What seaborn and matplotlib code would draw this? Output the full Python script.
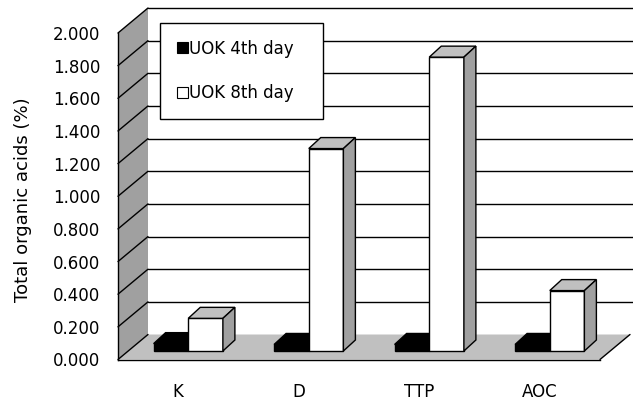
import matplotlib
matplotlib.use("Agg")
import matplotlib.pyplot as plt
import seaborn as sns
import pandas as pd
from matplotlib.patches import Polygon, Patch
from matplotlib.lines import Line2D

# ---- data -------------------------------------------------------------
categories = ["K", "D", "TTP", "AOC"]
series = ["UOK 4th day", "UOK 8th day"]
day4 = [0.045, 0.040, 0.040, 0.040]
day8 = [0.20, 1.24, 1.80, 0.37]
yticks = [0.0, 0.2, 0.4, 0.6, 0.8, 1.0, 1.2, 1.4, 1.6, 1.8, 2.0]
ytick_labels = [f"{v:.3f}" for v in yticks]

df = pd.DataFrame({
    "site": categories * 2,
    "period": [series[0]] * len(categories) + [series[1]] * len(categories),
    "acid": day4 + day8,
})

sns.set_style("white")
plt.rcParams["font.family"] = ["DejaVu Sans"]
plt.rcParams["text.color"] = "black"
plt.rcParams["axes.labelcolor"] = "black"
plt.rcParams["xtick.color"] = "black"
plt.rcParams["ytick.color"] = "black"

# ---- figure / front plane -------------------------------------------
W, H = 633, 403
fig = plt.figure(figsize=(W / 100, H / 100), dpi=100)
L, R, B, T = 118, 600, 359.5, 33           # front plane, pixels from top-left
ax = fig.add_axes([L / W, (H - B) / H, (R - L) / W, (B - T) / H])

sx = 4.0 / (R - L)     # data units per pixel (x)
sy = 2.0 / (B - T)     # data units per pixel (y)


def px(dx, dy):
    return dx * sx, dy * sy


WALL = px(30, 25)       # depth of the whole plot box
BFRONT = px(10, 8.5)    # bars sit a little behind the front plane
BDEPTH = px(12, 11)     # depth of each bar

WALL_GRAY = "#a0a0a0"
FLOOR_GRAY = "#c0c0c0"

sns.barplot(data=df, x="site", y="acid", hue="period",
            palette=["black", "white"], width=0.575, saturation=1,
            edgecolor="black", linewidth=1, legend=False, ax=ax)
bars = list(ax.patches)

ax.set_xlim(-0.5, 3.5)
ax.set_ylim(0, 2.0)

x0, x1 = -0.5, 3.5
wx, wy = WALL

# back wall with gridlines
ax.add_patch(Polygon([(x0 + wx, wy), (x1 + wx + 0.1, wy),
                      (x1 + wx + 0.1, 2 + wy), (x0 + wx, 2 + wy)],
                     closed=True, facecolor="white", edgecolor="none",
                     zorder=0.5, clip_on=False))
for v in yticks[1:]:
    ax.add_line(Line2D([x0 + wx, x1 + wx + 0.1], [v + wy, v + wy],
                       color="black", lw=1, zorder=1.2, clip_on=False))

# left side wall with diagonal grid
ax.add_patch(Polygon([(x0, 0), (x0, 2), (x0 + wx, 2 + wy), (x0 + wx, wy)],
                     closed=True, facecolor=WALL_GRAY, edgecolor="none",
                     zorder=1, clip_on=False))
for v in yticks:
    ax.add_line(Line2D([x0, x0 + wx], [v, v + wy], color="black", lw=1,
                       zorder=1.2, clip_on=False))

# floor
ax.add_patch(Polygon([(x0, 0), (x1, 0), (x1 + wx, wy), (x0 + wx, wy)],
                     closed=True, facecolor=FLOOR_GRAY, edgecolor="none",
                     zorder=1.1, clip_on=False))
ax.add_line(Line2D([x1, x1 + wx], [0, wy], color="black", lw=1,
                   zorder=1.2, clip_on=False))

# bars: shift front faces back and add top and side faces
bx, by = BFRONT
dx, dy = BDEPTH
n = len(categories)
for k, p in enumerate(bars):
    hue_idx = k // n
    dark = hue_idx == 0
    z = 3 + hue_idx
    p.set_x(p.get_x() + bx)
    p.set_y(by)
    p.set_zorder(z)
    p.set_clip_on(False)
    xa = p.get_x()
    xb = xa + p.get_width()
    top = by + p.get_height()
    ax.add_patch(Polygon([(xa, top), (xb, top), (xb + dx, top + dy), (xa + dx, top + dy)],
                         closed=True, facecolor="black" if dark else FLOOR_GRAY,
                         edgecolor="black", lw=1, zorder=z + 0.1, clip_on=False))
    ax.add_patch(Polygon([(xb, by), (xb, top), (xb + dx, top + dy), (xb + dx, by + dy)],
                         closed=True, facecolor="black" if dark else WALL_GRAY,
                         edgecolor="black", lw=1, zorder=z + 0.1, clip_on=False))

# axes styling
for s in ["top", "right"]:
    ax.spines[s].set_visible(False)
for s in ["left", "bottom"]:
    ax.spines[s].set_color("black")
    ax.spines[s].set_linewidth(1)
    ax.spines[s].set_zorder(6)
ax.patch.set_visible(False)

ax.set_yticks(yticks)
ax.set_yticklabels(ytick_labels, fontsize=12)
ax.tick_params(axis="y", direction="out", length=3.6, width=1, pad=9, colors="black")

ax.set_xticks(range(n))
ax.set_xticklabels(categories, fontsize=12)
ax.set_xticks([i - 0.5 for i in range(n + 1)], minor=True)
ax.tick_params(axis="x", which="major", length=0, pad=17, colors="black")
ax.tick_params(axis="x", which="minor", direction="out", length=3.6, width=1, colors="black")
ax.set_xlabel("")

ax.set_ylabel("Total organic acids (%)", fontsize=13, color="black")
ax.yaxis.set_label_coords(-0.178, 0.49)

handles = [Patch(facecolor="black", edgecolor="black", lw=0.8),
           Patch(facecolor="white", edgecolor="black", lw=0.8)]
leg = fig.legend(handles, series, loc="upper left",
                 bbox_to_anchor=(160 / W, 1 - 113 / H, 163 / W, 90 / H),
                 mode="expand", fontsize=12, frameon=True, fancybox=False,
                 framealpha=1, edgecolor="black", borderpad=1.0,
                 labelspacing=1.6, handlelength=0.65, handleheight=0.65,
                 handletextpad=0.1, borderaxespad=0)
leg.get_frame().set_linewidth(1)
leg.set_zorder(10)
for t in leg.get_texts():
    t.set_color("black")

fig.savefig("out.png", dpi=100, facecolor="white")
